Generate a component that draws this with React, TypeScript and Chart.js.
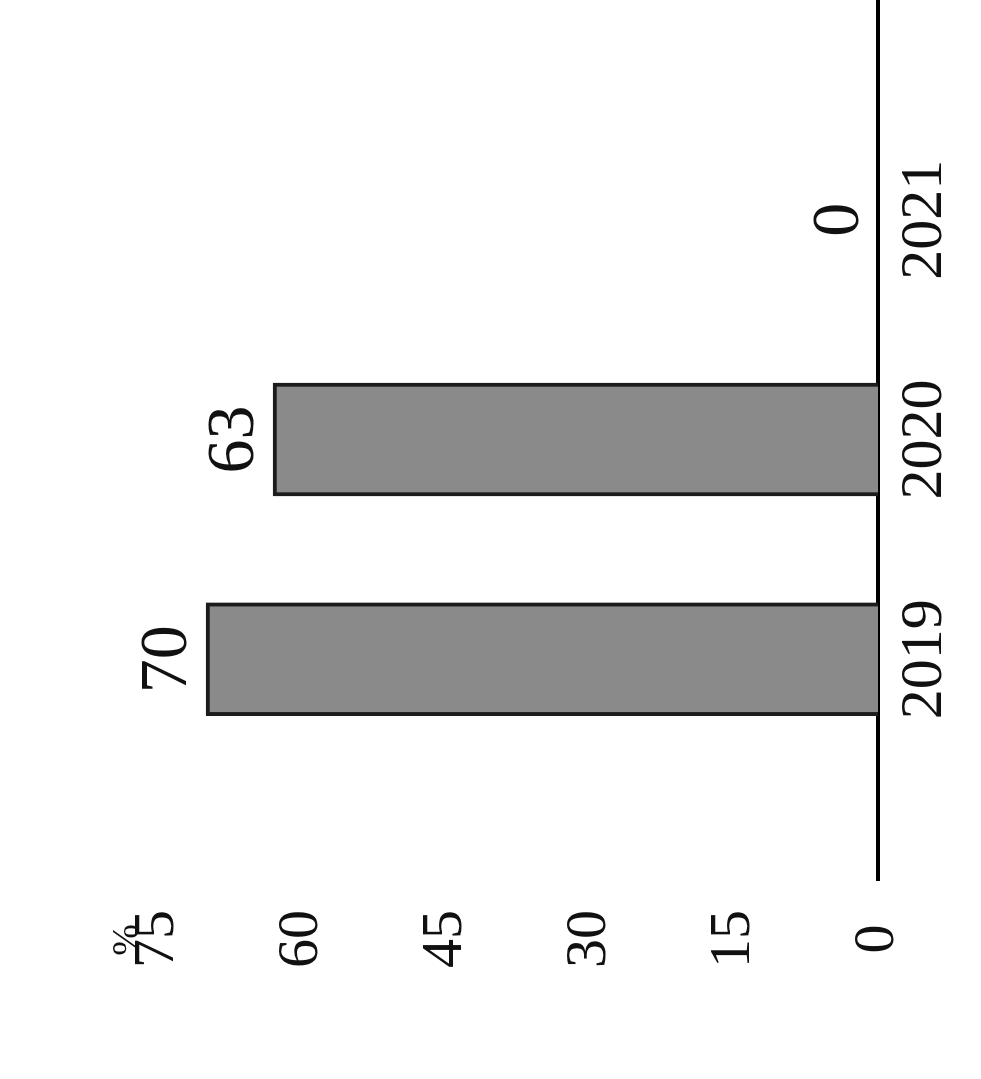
import React, { useEffect, useRef } from 'react';
import { Chart, registerables } from 'chart.js';

Chart.register(...registerables);

// ---- data ----
const categories: string[] = ['', '2019', '2020', '2021', ''];
const values: (number | null)[] = [null, 70, 63, 0, null];
const valueTicks: number[] = [0, 15, 30, 45, 60, 75];
const unitLabel = '%';

const FONT = "'Liberation Serif', 'Times New Roman', serif";
const W = 1079; // unrotated width
const H = 981; // unrotated height

export default function App() {
  const ref = useRef<HTMLCanvasElement>(null);

  useEffect(() => {
    const canvas = ref.current;
    if (!canvas) return;

    const labelPlugin = {
      id: 'valueLabels',
      afterDatasetsDraw(chart: any) {
        const ctx = chart.ctx;
        const meta = chart.getDatasetMeta(0);
        ctx.save();
        ctx.fillStyle = '#111';
        ctx.font = `68px ${FONT}`;
        ctx.textAlign = 'center';
        ctx.textBaseline = 'alphabetic';
        meta.data.forEach((el: any, i: number) => {
          const v = values[i];
          if (v === null || v === undefined) return;
          ctx.fillText(String(v), el.x, el.y - 20);
        });
        const yScale = chart.scales.y;
        ctx.font = `38px ${FONT}`;
        ctx.textBaseline = 'middle';
        ctx.fillText(
          unitLabel,
          yScale.right - 61,
          yScale.getPixelForValue(valueTicks[valueTicks.length - 1]) - 30
        );
        ctx.restore();
      },
    };

    const chart = new Chart(canvas, {
      type: 'bar',
      data: {
        labels: categories,
        datasets: [
          {
            data: values as any,
            backgroundColor: '#8a8a8a',
            borderColor: '#1c1c1c',
            borderWidth: 4,
            borderSkipped: 'start',
            barThickness: 113,
          },
        ],
      },
      options: {
        animation: false,
        responsive: false,
        devicePixelRatio: 1,
        layout: { padding: { top: 158, right: 0, bottom: 0, left: 0 } },
        plugins: {
          legend: { display: false },
          tooltip: { enabled: false },
        },
        scales: {
          x: {
            offset: false,
            grid: { display: false, drawTicks: false },
            border: { display: true, color: '#000', width: 4 },
            ticks: {
              color: '#111',
              font: { family: FONT, size: 60 },
              padding: 11,
              maxRotation: 0,
              minRotation: 0,
              autoSkip: false,
            },
            afterFit: (s: any) => {
              s.height = 103;
              s.paddingRight = 0;
              s.paddingLeft = 0;
            },
          },
          y: {
            min: 0,
            max: 75,
            grid: { display: false, drawTicks: false },
            border: { display: false },
            ticks: {
              color: '#111',
              font: { family: FONT, size: 58 },
              crossAlign: 'center',
              padding: 31,
              stepSize: 15,
            },
            afterBuildTicks: (s: any) => {
              s.ticks = valueTicks.map((v) => ({ value: v }));
            },
            afterFit: (s: any) => {
              s.width = 200;
            },
          },
        },
      } as any,
      plugins: [labelPlugin],
    });

    return () => chart.destroy();
  }, []);

  return (
    <div
      style={{
        position: 'fixed',
        top: 0,
        left: 0,
        width: 981,
        height: 1079,
        overflow: 'hidden',
        background: '#fff',
      }}
    >
      <div
        style={{
          position: 'absolute',
          top: 0,
          left: 0,
          width: W,
          height: H,
          transformOrigin: '0 0',
          transform: `translateY(${W}px) rotate(-90deg)`,
        }}
      >
        <canvas ref={ref} width={W} height={H} style={{ display: 'block', width: W, height: H }} />
      </div>
    </div>
  );
}
